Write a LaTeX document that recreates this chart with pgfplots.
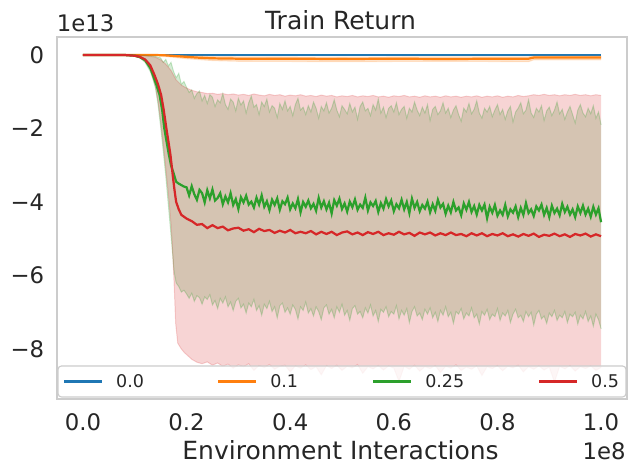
\documentclass[border=0pt]{standalone}
\usepackage{pgfplots}
\pgfplotsset{compat=1.18}
\usepgfplotslibrary{fillbetween}
\usepackage{fontspec}
\setmainfont{DejaVu Sans}
\definecolor{tabblue}{HTML}{1F77B4}
\definecolor{taborange}{HTML}{FF7F0E}
\definecolor{tabgreen}{HTML}{2CA02C}
\definecolor{tabred}{HTML}{D62728}
\definecolor{txt}{HTML}{262626}
\definecolor{edge}{HTML}{CCCCCC}
\begin{document}
\begin{tikzpicture}
\begin{axis}[
  at={(41.04pt,54.72pt)}, anchor=south west,
  width=410.4pt, height=260.64pt, scale only axis,
  xmin=-0.05, xmax=1.05, ymin=-9.36, ymax=0.49,
  xtick={0,0.2,0.4,0.6,0.8,1}, xticklabels={0.0,0.2,0.4,0.6,0.8,1.0},
  ytick={-8,-6,-4,-2,0}, yticklabels={−8,−6,−4,−2,0},
  major tick length=0pt,
  axis line style={draw=edge, line width=1.3pt},
  tick label style={font=\fontsize{16.4}{19}\selectfont, text=txt},
  xticklabel style={inner sep=0pt, anchor=north, yshift=-10pt},
  yticklabel style={inner sep=0pt, anchor=east, xshift=-9pt},
  legend columns=4,
  legend image code/.code={\draw[#1] (0pt,0pt) -- (27.4pt,0pt);},
  legend style={
    at={(0.5,0.004)}, anchor=south,
    draw=edge, line width=0.8pt, rounded corners=2.5pt,
    fill=white, fill opacity=0.8, text opacity=1,
    inner xsep=3.6pt, inner ysep=4.5pt,
    font=\fontsize{12.6}{15}\selectfont, text=txt,
    nodes={inner xsep=0pt, inner ysep=2pt, text depth=0pt},
    column sep=0pt,
    /tikz/every odd column/.append style={column sep=9.3pt},
  },
]
% ---------- 0.0 ----------
\addplot[tabblue, line width=1.6pt] coordinates {(0,0) (1,0)};
\addlegendentry{\makebox[72.6pt][l]{0.0}}
% ---------- 0.1 ----------
\addplot[name path=ou, draw=taborange, draw opacity=0.2, line width=0.8pt, forget plot] coordinates {
(0,0.01) (0.14,0.01) (0.2,-0.02) (0.25,-0.04) (0.3,-0.05) (0.5,-0.06) (0.7,-0.05) (0.86,-0.05) (0.87,-0.03) (1,-0.03)};
\addplot[name path=ol, draw=taborange, draw opacity=0.2, line width=0.8pt, forget plot] coordinates {
(0,-0.01) (0.14,-0.01) (0.2,-0.1) (0.25,-0.15) (0.3,-0.17) (0.5,-0.18) (0.7,-0.17) (0.86,-0.18) (0.87,-0.13) (1,-0.13)};
\addplot[taborange, fill opacity=0.2, draw=none, forget plot] fill between[of=ou and ol];
\addplot[taborange, line width=1.6pt] coordinates {
(0,0) (0.14,0) (0.16,-0.01) (0.18,-0.03) (0.2,-0.05) (0.22,-0.07) (0.25,-0.09) (0.3,-0.1) (0.4,-0.1) (0.5,-0.11) (0.6,-0.1) (0.7,-0.11) (0.8,-0.1) (0.86,-0.1) (0.87,-0.07) (1.0,-0.07)};
\addlegendentry{\makebox[73.3pt][l]{0.1}}
% ---------- 0.25 band ----------
\addplot[name path=gu, draw=tabgreen, draw opacity=0.25, line width=0.7pt, forget plot] coordinates {
(0,0) (0.10,0) (0.12,-0.01) (0.14,-0.04) (0.15,-0.08) (0.155,-0.2) (0.16,-0.12) (0.165,-0.3) (0.17,-0.2) (0.175,-0.45) (0.18,-0.62) (0.185,-0.5) (0.19,-0.8) (0.195,-0.72)
(0.200,-0.88) (0.205,-1.02) (0.210,-0.95) (0.215,-1.18) (0.220,-1.05) (0.225,-0.98) (0.230,-1.25) (0.235,-1.10) (0.240,-1.32) (0.245,-1.08)
(0.250,-1.15) (0.255,-1.40) (0.260,-1.22) (0.265,-1.30) (0.270,-1.05) (0.275,-1.35) (0.280,-1.48) (0.285,-1.20) (0.290,-1.28) (0.295,-1.52)
(0.300,-1.18) (0.305,-1.36) (0.310,-1.25) (0.315,-1.58) (0.320,-1.30) (0.325,-1.12) (0.330,-1.42) (0.335,-1.35) (0.340,-1.62) (0.345,-1.28)
(0.350,-1.40) (0.355,-1.20) (0.360,-1.55) (0.365,-1.38) (0.370,-1.45) (0.375,-1.70) (0.380,-1.32) (0.385,-1.48) (0.390,-1.25) (0.395,-1.52)
(0.400,-1.40) (0.405,-1.65) (0.410,-1.35) (0.415,-1.18) (0.420,-1.50) (0.425,-1.42) (0.430,-1.62) (0.435,-1.38) (0.440,-1.55) (0.445,-1.28)
(0.450,-1.45) (0.455,-1.72) (0.460,-1.40) (0.465,-1.52) (0.470,-1.30) (0.475,-1.58) (0.480,-1.45) (0.485,-1.22) (0.490,-1.50) (0.495,-1.68)
(0.500,-1.38) (0.505,-1.48) (0.510,-1.60) (0.515,-1.32) (0.520,-1.55) (0.525,-1.42) (0.530,-1.75) (0.535,-1.40) (0.540,-1.28) (0.545,-1.52)
(0.550,-1.45) (0.555,-1.65) (0.560,-1.35) (0.565,-1.50) (0.570,-1.20) (0.575,-1.58) (0.580,-1.42) (0.585,-1.70) (0.590,-1.45) (0.595,-1.38)
(0.600,-1.55) (0.605,-1.30) (0.610,-1.62) (0.615,-1.48) (0.620,-1.40) (0.625,-1.72) (0.630,-1.45) (0.635,-1.55) (0.640,-1.28) (0.645,-1.50)
(0.650,-1.65) (0.655,-1.42) (0.660,-1.58) (0.665,-1.35) (0.670,-1.78) (0.675,-1.48) (0.680,-1.40) (0.685,-1.62) (0.690,-1.52) (0.695,-1.30)
(0.700,-1.58) (0.705,-1.45) (0.710,-1.70) (0.715,-1.50) (0.720,-1.38) (0.725,-1.62) (0.730,-1.80) (0.735,-1.45) (0.740,-1.55) (0.745,-1.32)
(0.750,-1.60) (0.755,-1.48) (0.760,-1.25) (0.765,-1.58) (0.770,-1.72) (0.775,-1.45) (0.780,-1.55) (0.785,-1.40) (0.790,-1.68) (0.795,-1.50)
(0.800,-1.35) (0.805,-1.62) (0.810,-1.48) (0.815,-1.75) (0.820,-1.52) (0.825,-1.40) (0.830,-1.82) (0.835,-1.55) (0.840,-1.45) (0.845,-1.30)
(0.850,-1.60) (0.855,-1.50) (0.860,-1.22) (0.865,-1.58) (0.870,-1.70) (0.875,-1.45) (0.880,-1.55) (0.885,-1.38) (0.890,-1.78) (0.895,-1.52)
(0.900,-1.42) (0.905,-1.65) (0.910,-1.50) (0.915,-1.28) (0.920,-1.60) (0.925,-1.48) (0.930,-1.75) (0.935,-1.55) (0.940,-1.40) (0.945,-1.62)
(0.950,-1.85) (0.955,-1.50) (0.960,-1.35) (0.965,-1.58) (0.970,-1.68) (0.975,-1.45) (0.980,-1.60) (0.985,-1.38) (0.990,-1.72) (0.995,-1.55)
(1.000,-1.90)};
\addplot[name path=gl, draw=tabgreen, draw opacity=0.25, line width=0.7pt, forget plot] coordinates {
(0,0) (0.09,0) (0.10,-0.03) (0.11,-0.08) (0.12,-0.2) (0.13,-0.45) (0.135,-0.65) (0.14,-0.9) (0.145,-1.35) (0.15,-1.95) (0.155,-2.6) (0.16,-3.3) (0.165,-4.1) (0.17,-4.9) (0.173,-5.4) (0.176,-5.9) (0.18,-6.2) (0.185,-6.3) (0.19,-6.45) (0.195,-6.4)
(0.200,-6.50) (0.205,-6.62) (0.210,-6.48) (0.215,-6.70) (0.220,-6.55) (0.225,-6.60) (0.230,-6.78) (0.235,-6.58) (0.240,-6.65) (0.245,-6.52)
(0.250,-6.80) (0.255,-6.68) (0.260,-6.90) (0.265,-6.62) (0.270,-6.75) (0.275,-6.58) (0.280,-6.85) (0.285,-6.72) (0.290,-6.95) (0.295,-6.70)
(0.300,-6.62) (0.305,-6.88) (0.310,-6.78) (0.315,-7.02) (0.320,-6.75) (0.325,-6.85) (0.330,-6.65) (0.335,-6.95) (0.340,-6.82) (0.345,-7.08)
(0.350,-6.78) (0.355,-6.90) (0.360,-6.70) (0.365,-6.98) (0.370,-6.85) (0.375,-7.15) (0.380,-6.82) (0.385,-6.75) (0.390,-7.00) (0.395,-6.88)
(0.400,-7.05) (0.405,-6.80) (0.410,-6.92) (0.415,-7.18) (0.420,-6.85) (0.425,-6.95) (0.430,-6.72) (0.435,-7.02) (0.440,-6.90) (0.445,-7.10)
(0.450,-6.85) (0.455,-6.98) (0.460,-7.20) (0.465,-6.88) (0.470,-6.80) (0.475,-7.05) (0.480,-6.92) (0.485,-7.15) (0.490,-6.85) (0.495,-7.00)
(0.500,-6.78) (0.505,-7.08) (0.510,-6.95) (0.515,-7.22) (0.520,-6.90) (0.525,-6.82) (0.530,-7.05) (0.535,-6.98) (0.540,-7.15) (0.545,-6.88)
(0.550,-7.02) (0.555,-6.80) (0.560,-7.10) (0.565,-6.95) (0.570,-7.25) (0.575,-6.92) (0.580,-7.00) (0.585,-6.85) (0.590,-7.12) (0.595,-6.98)
(0.600,-7.05) (0.605,-6.82) (0.610,-7.18) (0.615,-6.95) (0.620,-7.08) (0.625,-6.90) (0.630,-7.28) (0.635,-6.98) (0.640,-6.85) (0.645,-7.10)
(0.650,-7.02) (0.655,-7.20) (0.660,-6.92) (0.665,-7.05) (0.670,-6.88) (0.675,-7.15) (0.680,-7.00) (0.685,-7.25) (0.690,-6.95) (0.695,-7.08)
(0.700,-6.85) (0.705,-7.12) (0.710,-7.00) (0.715,-7.30) (0.720,-6.98) (0.725,-7.05) (0.730,-6.90) (0.735,-7.18) (0.740,-7.02) (0.745,-7.10)
(0.750,-6.88) (0.755,-7.15) (0.760,-7.05) (0.765,-7.32) (0.770,-6.98) (0.775,-7.08) (0.780,-6.92) (0.785,-7.20) (0.790,-7.05) (0.795,-7.12)
(0.800,-6.90) (0.805,-7.22) (0.810,-7.02) (0.815,-7.10) (0.820,-6.95) (0.825,-7.28) (0.830,-7.05) (0.835,-6.92) (0.840,-7.15) (0.845,-7.08)
(0.850,-7.25) (0.855,-6.98) (0.860,-7.12) (0.865,-7.00) (0.870,-7.35) (0.875,-7.05) (0.880,-6.95) (0.885,-7.18) (0.890,-7.10) (0.895,-7.30)
(0.900,-7.02) (0.905,-7.12) (0.910,-6.95) (0.915,-7.22) (0.920,-7.08) (0.925,-7.15) (0.930,-6.98) (0.935,-7.28) (0.940,-7.05) (0.945,-7.12)
(0.950,-7.00) (0.955,-7.32) (0.960,-7.08) (0.965,-7.18) (0.970,-6.98) (0.975,-7.25) (0.980,-7.10) (0.985,-7.38) (0.990,-7.05) (0.995,-7.20)
(1.000,-7.45)};
\addplot[tabgreen, fill opacity=0.2, draw=none, forget plot] fill between[of=gu and gl];
% ---------- 0.5 band ----------
\addplot[name path=ru, draw=tabred, draw opacity=0.2, line width=0.7pt, forget plot] coordinates {
(0,0) (0.10,0) (0.12,-0.02) (0.14,-0.06) (0.15,-0.13) (0.16,-0.25) (0.17,-0.42) (0.18,-0.68) (0.19,-0.82)
(0.20,-0.90) (0.21,-0.96) (0.22,-1.00) (0.23,-1.02) (0.24,-1.05) (0.25,-1.04) (0.26,-1.07) (0.27,-1.05) (0.28,-1.08) (0.29,-1.06)
(0.30,-1.09) (0.31,-1.07) (0.32,-1.10) (0.33,-1.06) (0.34,-1.09) (0.35,-1.11) (0.36,-1.07) (0.37,-1.10) (0.38,-1.08) (0.39,-1.12)
(0.40,-1.09) (0.41,-1.11) (0.42,-1.08) (0.43,-1.12) (0.44,-1.10) (0.45,-1.13) (0.46,-1.09) (0.47,-1.12) (0.48,-1.10) (0.49,-1.14)
(0.50,-1.11) (0.51,-1.13) (0.52,-1.10) (0.53,-1.14) (0.54,-1.11) (0.55,-1.13) (0.56,-1.10) (0.57,-1.14) (0.58,-1.12) (0.59,-1.15)
(0.60,-1.11) (0.61,-1.13) (0.62,-1.10) (0.63,-1.14) (0.64,-1.12) (0.65,-1.15) (0.66,-1.11) (0.67,-1.14) (0.68,-1.12) (0.69,-1.15)
(0.70,-1.11) (0.71,-1.14) (0.72,-1.12) (0.73,-1.15) (0.74,-1.12) (0.75,-1.14) (0.76,-1.11) (0.77,-1.15) (0.78,-1.12) (0.79,-1.14)
(0.80,-1.11) (0.81,-1.15) (0.82,-1.12) (0.83,-1.14) (0.84,-1.10) (0.85,-1.13) (0.86,-1.11) (0.87,-1.08) (0.88,-1.10) (0.89,-1.07)
(0.90,-1.10) (0.91,-1.08) (0.92,-1.11) (0.93,-1.08) (0.94,-1.10) (0.95,-1.07) (0.96,-1.10) (0.97,-1.08) (0.98,-1.11) (0.99,-1.08)
(1.00,-1.10)};
\addplot[name path=rl, draw=tabred, draw opacity=0.2, line width=0.7pt, forget plot] coordinates {
(0,0) (0.09,0) (0.10,-0.03) (0.11,-0.07) (0.12,-0.17) (0.13,-0.4) (0.14,-0.85) (0.145,-1.25) (0.15,-1.8) (0.155,-2.4) (0.16,-3.1) (0.165,-3.8) (0.17,-4.6) (0.173,-5.3) (0.176,-6.2) (0.179,-7.3) (0.183,-7.84) (0.19,-8.0) (0.196,-8.1)
(0.20,-8.15) (0.21,-8.28) (0.22,-8.36) (0.23,-8.40) (0.24,-8.35) (0.25,-8.44) (0.26,-8.38) (0.27,-8.47) (0.28,-8.41) (0.29,-8.52)
(0.30,-8.43) (0.31,-8.48) (0.32,-8.40) (0.33,-8.58) (0.34,-8.45) (0.35,-8.50) (0.36,-8.42) (0.37,-8.55) (0.38,-8.47) (0.39,-8.44)
(0.40,-8.62) (0.41,-8.46) (0.42,-8.52) (0.43,-8.43) (0.44,-8.56) (0.45,-8.48) (0.46,-8.70) (0.47,-8.45) (0.48,-8.53) (0.49,-8.44)
(0.50,-8.58) (0.51,-8.47) (0.52,-8.51) (0.53,-8.42) (0.54,-8.66) (0.55,-8.48) (0.56,-8.54) (0.57,-8.45) (0.58,-8.57) (0.59,-8.46)
(0.60,-8.52) (0.61,-8.88) (0.62,-8.47) (0.63,-8.55) (0.64,-8.44) (0.65,-8.60) (0.66,-8.48) (0.67,-8.53) (0.68,-8.45) (0.69,-8.64)
(0.70,-8.47) (0.71,-8.52) (0.72,-8.43) (0.73,-8.58) (0.74,-8.49) (0.75,-8.55) (0.76,-8.46) (0.77,-8.72) (0.78,-8.48) (0.79,-8.53)
(0.80,-8.45) (0.81,-8.59) (0.82,-8.47) (0.83,-8.51) (0.84,-8.44) (0.85,-8.62) (0.86,-8.48) (0.87,-8.55) (0.88,-8.46) (0.89,-8.57)
(0.90,-8.49) (0.91,-8.90) (0.92,-8.47) (0.93,-8.54) (0.94,-8.45) (0.95,-8.60) (0.96,-8.48) (0.97,-8.53) (0.98,-8.46) (0.99,-8.58)
(1.00,-8.50)};
\addplot[tabred, fill opacity=0.2, draw=none, forget plot] fill between[of=ru and rl];
% ---------- 0.25 mean ----------
\addplot[tabgreen, line width=1.6pt] coordinates {
(0,0) (0.04,0) (0.08,0) (0.10,-0.02) (0.11,-0.06) (0.12,-0.14) (0.13,-0.35) (0.135,-0.54) (0.142,-0.82) (0.148,-1.09) (0.153,-1.5) (0.157,-1.99) (0.162,-2.4) (0.166,-2.72) (0.170,-3.0) (0.174,-3.17) (0.18,-3.45) (0.185,-3.50) (0.19,-3.54) (0.195,-3.58)
(0.200,-3.60) (0.205,-3.82) (0.210,-3.57) (0.215,-3.79) (0.220,-3.94) (0.225,-3.67) (0.230,-3.76) (0.235,-4.01) (0.240,-3.68) (0.245,-3.90)
(0.250,-3.66) (0.255,-3.96) (0.260,-3.89) (0.265,-3.76) (0.270,-4.06) (0.275,-3.85) (0.280,-4.01) (0.285,-3.76) (0.290,-4.08) (0.295,-3.92)
(0.300,-4.19) (0.305,-3.87) (0.310,-4.01) (0.315,-3.83) (0.320,-4.07) (0.325,-3.99) (0.330,-4.15) (0.335,-3.88) (0.340,-4.07) (0.345,-3.82)
(0.350,-4.13) (0.355,-3.98) (0.360,-4.22) (0.365,-3.94) (0.370,-4.08) (0.375,-3.90) (0.380,-4.21) (0.385,-3.98) (0.390,-4.06) (0.395,-3.88)
(0.400,-4.20) (0.405,-4.04) (0.410,-4.17) (0.415,-3.92) (0.420,-4.28) (0.425,-4.00) (0.430,-4.13) (0.435,-3.96) (0.440,-4.17) (0.445,-4.05)
(0.450,-4.24) (0.455,-3.89) (0.460,-4.15) (0.465,-3.98) (0.470,-4.20) (0.475,-4.02) (0.480,-4.31) (0.485,-3.95) (0.490,-4.10) (0.495,-3.91)
(0.500,-4.19) (0.505,-4.04) (0.510,-4.26) (0.515,-3.99) (0.520,-4.14) (0.525,-3.93) (0.530,-4.21) (0.535,-4.07) (0.540,-4.16) (0.545,-3.88)
(0.550,-4.23) (0.555,-4.01) (0.560,-4.11) (0.565,-3.97) (0.570,-4.27) (0.575,-4.03) (0.580,-4.18) (0.585,-3.92) (0.590,-4.12) (0.595,-3.96)
(0.600,-4.25) (0.605,-4.06) (0.610,-4.17) (0.615,-3.94) (0.620,-4.20) (0.625,-4.00) (0.630,-4.30) (0.635,-3.91) (0.640,-4.16) (0.645,-4.00)
(0.650,-4.25) (0.655,-4.08) (0.660,-4.18) (0.665,-3.99) (0.670,-4.28) (0.675,-4.06) (0.680,-4.24) (0.685,-3.94) (0.690,-4.15) (0.695,-4.05)
(0.700,-4.32) (0.705,-4.10) (0.710,-4.28) (0.715,-4.00) (0.720,-4.23) (0.725,-4.15) (0.730,-4.36) (0.735,-4.04) (0.740,-4.21) (0.745,-4.00)
(0.750,-4.27) (0.755,-4.11) (0.760,-4.34) (0.765,-4.08) (0.770,-4.23) (0.775,-4.07) (0.780,-4.44) (0.785,-4.13) (0.790,-4.29) (0.795,-4.08)
(0.800,-4.37) (0.805,-4.23) (0.810,-4.35) (0.815,-4.08) (0.820,-4.39) (0.825,-4.20) (0.830,-4.29) (0.835,-4.12) (0.840,-4.41) (0.845,-4.16)
(0.850,-4.35) (0.855,-4.03) (0.860,-4.30) (0.865,-4.20) (0.870,-4.38) (0.875,-4.12) (0.880,-4.23) (0.885,-4.07) (0.890,-4.35) (0.895,-4.16)
(0.900,-4.41) (0.905,-4.10) (0.910,-4.30) (0.915,-4.18) (0.920,-4.36) (0.925,-4.05) (0.930,-4.27) (0.935,-4.13) (0.940,-4.34) (0.945,-4.20)
(0.950,-4.41) (0.955,-4.12) (0.960,-4.30) (0.965,-4.10) (0.970,-4.34) (0.975,-4.18) (0.980,-4.40) (0.985,-4.13) (0.990,-4.34) (0.995,-4.17)
(1.000,-4.55)};
\addlegendentry{\makebox[81.2pt][l]{0.25}}
% ---------- 0.5 mean ----------
\addplot[tabred, line width=1.6pt] coordinates {
(0,0) (0.05,0) (0.08,0) (0.10,-0.02) (0.11,-0.05) (0.12,-0.12) (0.13,-0.28) (0.138,-0.54) (0.145,-0.8) (0.151,-1.09) (0.156,-1.5) (0.161,-1.99) (0.165,-2.35) (0.169,-2.72) (0.174,-3.35) (0.177,-3.7) (0.18,-4.0) (0.185,-4.2) (0.19,-4.35) (0.20,-4.45)
(0.21,-4.52) (0.22,-4.62) (0.23,-4.60) (0.24,-4.71) (0.25,-4.63) (0.26,-4.71) (0.27,-4.67) (0.28,-4.77) (0.29,-4.72)
(0.30,-4.70) (0.31,-4.78) (0.32,-4.74) (0.33,-4.82) (0.34,-4.73) (0.35,-4.79) (0.36,-4.76) (0.37,-4.84) (0.38,-4.78) (0.39,-4.83)
(0.40,-4.76) (0.41,-4.85) (0.42,-4.81) (0.43,-4.85) (0.44,-4.79) (0.45,-4.88) (0.46,-4.81) (0.47,-4.87) (0.48,-4.81) (0.49,-4.90)
(0.50,-4.83) (0.51,-4.80) (0.52,-4.88) (0.53,-4.83) (0.54,-4.90) (0.55,-4.82) (0.56,-4.87) (0.57,-4.81) (0.58,-4.90) (0.59,-4.85)
(0.60,-4.89) (0.61,-4.81) (0.62,-4.88) (0.63,-4.84) (0.64,-4.92) (0.65,-4.83) (0.66,-4.88) (0.67,-4.83) (0.68,-4.91) (0.69,-4.85)
(0.70,-4.90) (0.71,-4.83) (0.72,-4.90) (0.73,-4.87) (0.74,-4.93) (0.75,-4.85) (0.76,-4.91) (0.77,-4.85) (0.78,-4.93) (0.79,-4.87)
(0.80,-4.91) (0.81,-4.85) (0.82,-4.93) (0.83,-4.88) (0.84,-4.94) (0.85,-4.87) (0.86,-4.92) (0.87,-4.86) (0.88,-4.95) (0.89,-4.89)
(0.90,-4.92) (0.91,-4.86) (0.92,-4.93) (0.93,-4.88) (0.94,-4.95) (0.95,-4.87) (0.96,-4.91) (0.97,-4.86) (0.98,-4.94) (0.99,-4.88)
(1.00,-4.93)};
\addlegendentry{\makebox[21.4pt][l]{0.5}}
\end{axis}
\node[anchor=base, inner sep=0pt, text=txt, font=\fontsize{18}{21}\selectfont] at (245.2pt,321.1pt) {Train Return};
\node[anchor=base, inner sep=0pt, text=txt, font=\fontsize{18}{21}\selectfont] at (245.2pt,11.5pt) {Environment Interactions};
\node[anchor=base east, inner sep=0pt, text=txt, font=\fontsize{16.4}{19}\selectfont] at (450.7pt,11.5pt) {1e8};
\node[anchor=base west, inner sep=0pt, text=txt, font=\fontsize{16.4}{19}\selectfont] at (40.7pt,319pt) {1e13};
\pgfresetboundingbox
\path[use as bounding box] (0,0) rectangle (457.2pt,342pt);
\end{tikzpicture}
\end{document}
